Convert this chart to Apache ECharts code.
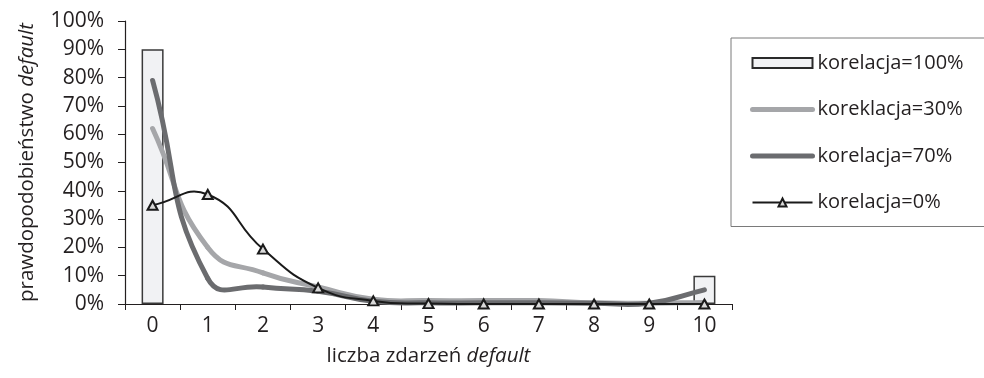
<!DOCTYPE html>
<html>
<head>
<meta charset="utf-8">
<script src="https://cdn.jsdelivr.net/npm/echarts@6/dist/echarts.min.js"></script>
<style>
  html, body { margin: 0; padding: 0; background: #fff; }
  #chart { width: 984px; height: 378px; }
</style>
</head>
<body>
<div id="chart"></div>
<script>
// Number of default events (0..10) and probability for each correlation level
const categories = ['0', '1', '2', '3', '4', '5', '6', '7', '8', '9', '10'];
const yTicks = [0, 0.1, 0.2, 0.3, 0.4, 0.5, 0.6, 0.7, 0.8, 0.9, 1.0];

const corr100 = [0.90, '-', '-', '-', '-', '-', '-', '-', '-', '-', 0.10];
const corr30  = [0.62, 0.20, 0.11, 0.06, 0.017, 0.012, 0.012, 0.012, 0.004, 0.003, 0.005];
const corr70  = [0.79, 0.09, 0.06, 0.045, 0.01, 0.004, 0.004, 0.004, 0.003, 0.003, 0.05];
const corr0   = [0.349, 0.387, 0.194, 0.057, 0.011, 0.0015, 0.0001, 0, 0, 0, 0];

const seriesNames = ['korelacja=100%', 'koreklacja=30%', 'korelacja=70%', 'korelacja=0%'];

const FONT = '"Open Sans", "Noto Sans", sans-serif';
const TEXT = '#231f20';
const LIGHT = '#a5a6a9';
const DARK = '#6b6c6f';
const BLACK = '#1a1a1a';
const TENSION = 0.5;

// Smooth curve segment i -> i+1 (cardinal spline, tangents weighted by segment length,
// no clamping so the curve may overshoot like a spreadsheet "smoothed line").
function curveRenderer(color, width) {
  return function (params, api) {
    const i = params.dataIndexInside;
    const n = params.dataInsideLength;
    if (i >= n - 1) return null;
    const pt = k => {
      const kk = Math.max(0, Math.min(n - 1, k));
      return api.coord([api.value(0, kk), api.value(1, kk)]);
    };
    const p0 = pt(i - 1), p1 = pt(i), p2 = pt(i + 1), p3 = pt(i + 2);
    const dist = (a, b) => Math.hypot(b[0] - a[0], b[1] - a[1]);
    const d01 = dist(p0, p1), d12 = dist(p1, p2), d23 = dist(p2, p3);
    const f1 = TENSION * d12 / ((d01 + d12) || 1);
    const f2 = TENSION * d12 / ((d12 + d23) || 1);
    const cp1 = [p1[0] + (p2[0] - p0[0]) * f1, p1[1] + (p2[1] - p0[1]) * f1];
    const cp2 = [p2[0] - (p3[0] - p1[0]) * f2, p2[1] - (p3[1] - p1[1]) * f2];
    return {
      type: 'bezierCurve',
      shape: {
        x1: p1[0], y1: p1[1], x2: p2[0], y2: p2[1],
        cpx1: cp1[0], cpy1: cp1[1], cpx2: cp2[0], cpy2: cp2[1]
      },
      style: { stroke: color, lineWidth: width, fill: null, lineCap: 'round' },
      silent: true
    };
  };
}

const toPairs = arr => arr.map((v, i) => [i, v]);

const chart = echarts.init(document.getElementById('chart'), null, { renderer: 'canvas' });

chart.setOption({
  animation: false,
  backgroundColor: '#ffffff',
  textStyle: { fontFamily: FONT, color: TEXT },
  grid: { left: 125, top: 21, right: 252, bottom: 74, containLabel: false },
  legend: {
    orient: 'vertical',
    left: 731,
    top: 38,
    padding: [15, 60, 14, 19],
    itemWidth: 60,
    itemHeight: 10,
    itemGap: 26.5,
    borderColor: '#7a7a7a',
    borderWidth: 1,
    backgroundColor: '#fff',
    textStyle: { fontFamily: FONT, fontSize: 20, color: TEXT, lineHeight: 20, padding: [0, 0, 0, 0] },
    data: [
      { name: seriesNames[0], icon: 'rect', itemStyle: { borderWidth: 2, borderColor: '#2a2a2a' } },
      { name: seriesNames[1], itemStyle: { opacity: 0 }, lineStyle: { width: 5, cap: 'round', opacity: 1, color: LIGHT } },
      { name: seriesNames[2], itemStyle: { opacity: 0 }, lineStyle: { width: 5, cap: 'round', opacity: 1, color: DARK } },
      { name: seriesNames[3], lineStyle: { width: 2, opacity: 1, color: BLACK } }
    ]
  },
  xAxis: {
    type: 'category',
    data: categories,
    boundaryGap: true,
    name: 'liczba zdarzeń {i|default}',
    nameLocation: 'middle',
    nameGap: 42,
    nameTextStyle: {
      fontFamily: FONT, fontSize: 20.5, color: TEXT,
      rich: { i: { fontFamily: FONT, fontSize: 20.5, fontStyle: 'italic', color: TEXT } }
    },
    axisLine: { lineStyle: { color: '#231f20', width: 1.2 } },
    axisTick: { show: true, length: 6, lineStyle: { color: '#231f20' } },
    axisLabel: { fontFamily: FONT, fontSize: 21, color: TEXT, margin: 12 },
    splitLine: { show: false }
  },
  yAxis: {
    type: 'value',
    min: yTicks[0],
    max: yTicks[yTicks.length - 1],
    interval: 0.1,
    name: 'prawdopodobieństwo {i|default}',
    nameLocation: 'middle',
    nameGap: 87,
    nameTextStyle: {
      fontFamily: FONT, fontSize: 20.5, color: TEXT,
      rich: { i: { fontFamily: FONT, fontSize: 20.5, fontStyle: 'italic', color: TEXT } }
    },
    axisLine: { show: true, lineStyle: { color: '#231f20', width: 1.2 } },
    axisTick: { show: true, length: 7, lineStyle: { color: '#231f20' } },
    axisLabel: {
      fontFamily: FONT, fontSize: 21, color: TEXT, margin: 21,
      formatter: v => Math.round(v * 100) + '%'
    },
    splitLine: { show: false }
  },
  series: [
    {
      name: seriesNames[0],
      type: 'bar',
      data: corr100,
      barWidth: 22,
      itemStyle: { color: '#f1f2f4', borderColor: '#3a3a3a', borderWidth: 1.5 },
      z: 1
    },
    // Legend entries / markers (their straight connecting lines are hidden)
    {
      name: seriesNames[1], type: 'line', data: corr30, symbol: 'none',
      lineStyle: { color: LIGHT, width: 5, opacity: 0 }, itemStyle: { color: LIGHT }, z: 2
    },
    {
      name: seriesNames[2], type: 'line', data: corr70, symbol: 'none',
      lineStyle: { color: DARK, width: 5, opacity: 0 }, itemStyle: { color: DARK }, z: 2
    },
    {
      name: seriesNames[3], type: 'line', data: corr0,
      symbol: 'triangle', symbolSize: [10, 9], showSymbol: true,
      lineStyle: { color: BLACK, width: 2, opacity: 0 },
      itemStyle: { color: '#d9d9d9', borderColor: BLACK, borderWidth: 2 },
      z: 6
    },
    // Smoothed curves
    {
      name: 'curve30', type: 'custom', data: toPairs(corr30),
      encode: { x: 0, y: 1 }, renderItem: curveRenderer(LIGHT, 5), z: 2, clip: false
    },
    {
      name: 'curve70', type: 'custom', data: toPairs(corr70),
      encode: { x: 0, y: 1 }, renderItem: curveRenderer(DARK, 5), z: 3, clip: false
    },
    {
      name: 'curve0', type: 'custom', data: toPairs(corr0),
      encode: { x: 0, y: 1 }, renderItem: curveRenderer(BLACK, 2), z: 4, clip: false
    }
  ]
});
</script>
</body>
</html>
